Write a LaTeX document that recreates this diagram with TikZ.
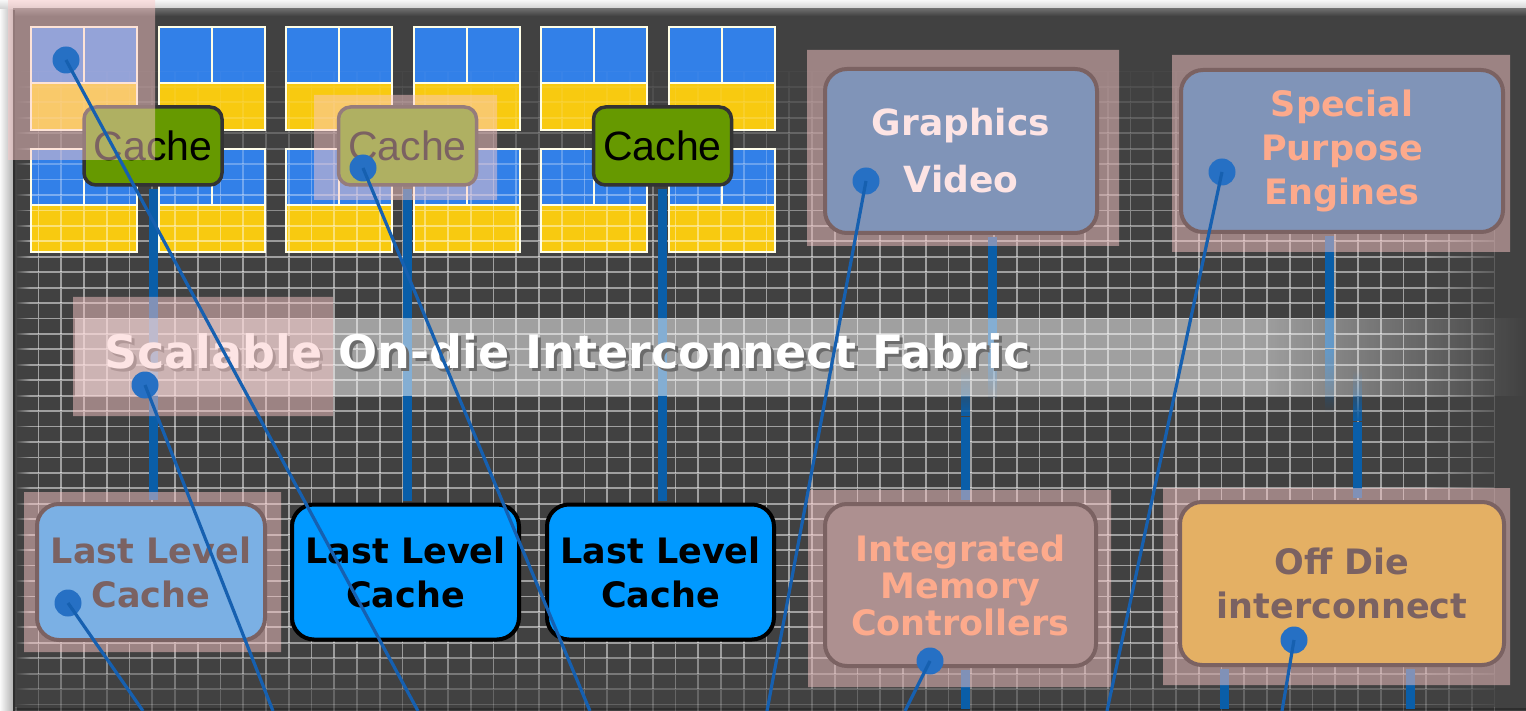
\documentclass[tikz,border=0pt]{standalone}
\usepackage{fontspec}
\setmainfont{DejaVu Sans}
\newfontfamily\cachefont{Liberation Sans}
\usetikzlibrary{fadings}

\definecolor{panelgray}{RGB}{65,65,65}
\definecolor{tileblue}{RGB}{50,128,232}
\definecolor{tileyellow}{RGB}{248,202,16}
\definecolor{cachegreen}{RGB}{102,153,0}
\definecolor{llcblue}{RGB}{0,153,255}
\definecolor{gfxblue}{RGB}{10,99,170}
\definecolor{imcgray}{RGB}{99,91,91}
\definecolor{offdiegold}{RGB}{207,154,5}
\definecolor{engineorange}{RGB}{255,143,83}
\definecolor{linkblue}{RGB}{10,94,168}
\definecolor{probeblue}{RGB}{38,112,196}
\definecolor{pointerblue}{RGB}{22,96,176}
\definecolor{hilitepink}{RGB}{251,200,200}

\tikzfading[name=fade out down, top color=transparent!0, bottom color=transparent!100]
\tikzfading[name=fade in down, top color=transparent!100, bottom color=transparent!0]
\tikzfading[name=fade out right, left color=transparent!0, right color=transparent!100]
\tikzfading[name=fade in right, left color=transparent!100, right color=transparent!0]

\tikzset{
  tileedge/.style={draw=white!90!yellow, line width=2pt},
  gridline/.style={white, line width=1.8pt},
  unit/.style={rounded corners=12pt, draw=black!80, line width=3.5pt, fill=cachegreen,
    minimum width=138pt, minimum height=78pt, inner sep=0pt,
    font=\cachefont\fontsize{41}{41}\selectfont},
  block/.style={rounded corners=22pt, draw=black, line width=4pt, align=center,
    font=\bfseries\fontsize{35}{44}\selectfont},
  link/.style={linkblue, line width=9pt, shorten <=2pt, shorten >=2pt},
  hilite/.style={fill=hilitepink, fill opacity=0.49},
  probe/.style={circle, fill=probeblue, inner sep=0pt, minimum size=27pt},
  pointer/.style={pointerblue, line width=3.2pt}
}

\begin{document}
\begin{tikzpicture}[x=1pt,y=-1pt]
\useasboundingbox (0,0) rectangle (1526,711);
% panel
\fill[black!7] (0,0) rectangle (1526,711);
\shade[top color=black!3, bottom color=black!20] (0,0) rectangle (1526,10);
\shade[left color=black!2, right color=black!30] (0,10) rectangle (13,711);
\fill[panelgray] (13,10) rectangle (1526,711);
\shade[top color=black!58, bottom color=panelgray] (13,9) rectangle (1526,16);
\draw[black!82, line width=2pt] (14,10) -- (14,711) (13,709) -- (1526,709);

% cores
\foreach \i in {0,...,5}
  \foreach \j in {0,1} {
    \pgfmathsetmacro\tx{31+127.6*\i}
    \pgfmathsetmacro\ty{27+122*\j}
    \fill[tileyellow] (\tx,\ty) rectangle ++(106,103);
    \fill[tileblue] (\tx,\ty) rectangle ++(106,56);
    \draw[tileedge] (\tx,\ty) rectangle ++(106,103)
      (\tx+53,\ty) -- ++(0,56) (\tx,\ty+56) -- ++(106,0);
  }

% die grid
\foreach \j in {0,...,45} {
  \pgfmathsetmacro\gy{9.7+15.44*\j}
  \pgfmathsetmacro\gop{0.5*min(1,max(0,(\gy-60)/190))*min(1,max(0.35,(720-\gy)/80))}
  \draw[gridline, draw opacity=\gop] (15,\gy) -- (1494,\gy)
    foreach \i in {0,...,65} {(15.7+22.75*\i,\gy) -- ++(0,15.44)};
}
\fill[panelgray, path fading=fade in right] (1420,16) rectangle (1526,707);
\fill[panelgray, path fading=fade out right] (15,16) rectangle (30,707);

% blocks
\node[unit] (cache1) at (153,146) {Cache};
\node[unit] (cache2) at (407.5,146) {Cache};
\node[unit] (cache3) at (662.5,146) {Cache};
\node[block, fill=gfxblue, text=white, minimum width=272pt, minimum height=164pt,
  font=\bfseries\fontsize{36}{57}\selectfont] (gfx) at (961,151) {Graphics\\Video};
\node[block, fill=gfxblue, text=engineorange, minimum width=322pt, minimum height=162pt]
  (spe) at (1342,151) {Special\\Purpose\\Engines};
\node[block, fill=llcblue, minimum width=228pt, minimum height=136pt]
  (llc1) at (151,572) {Last Level\\Cache};
\node[block, fill=llcblue, minimum width=227pt, minimum height=135pt]
  (llc2) at (405.5,572) {Last Level\\Cache};
\node[block, fill=llcblue, minimum width=227pt, minimum height=135pt]
  (llc3) at (660.5,572) {Last Level\\Cache};
\node[block, fill=imcgray, text=engineorange, minimum width=271pt, minimum height=162pt,
  font=\bfseries\fontsize{35}{37}\selectfont] (imc) at (960.5,585)
  {Integrated\\Memory\\Controllers};
\node[block, fill=offdiegold, minimum width=324pt, minimum height=163pt]
  (offdie) at (1342,583.5) {Off Die\\interconnect};

% links to the fabric
\coordinate (gfxtap) at (992,350);
\coordinate (spetap) at (1329,350);
\coordinate (imctap) at (965,415);
\coordinate (offtap) at (1357,420);
\coordinate (imcfoot) at (965,711);
\coordinate (offfootA) at (1224,711);
\coordinate (offfootB) at (1410,711);
\draw[link] (cache1.south) -- (cache1.south |- llc1.north);
\draw[link] (cache2.south) -- (cache2.south |- llc2.north);
\draw[link] (cache3.south) -- (cache3.south |- llc3.north);
\draw[link] (gfx.south -| gfxtap) -- (gfxtap);
\draw[link] (spe.south -| spetap) -- (spetap);
\draw[link] (imctap) -- (imc.north -| imctap);
\draw[link] (offtap) -- (offdie.north -| offtap);
\draw[link] (imc.south -| imcfoot) -- (imcfoot);
\draw[link] (offdie.south -| offfootA) -- (offfootA);
\draw[link] (offdie.south -| offfootB) -- (offfootB);
\fill[linkblue, path fading=fade out down] (987.5,349) rectangle (996.5,400);
\fill[linkblue, path fading=fade out down] (1324.5,349) rectangle (1333.5,412);
\fill[linkblue, path fading=fade in down] (960.5,368) rectangle (969.5,416);
\fill[linkblue, path fading=fade in down] (1352.5,370) rectangle (1361.5,421);

% fabric band
\fill[white, fill opacity=0.5] (75,318) rectangle (1260,396);
\fill[white, fill opacity=0.5, path fading=fade out right] (1260,318) rectangle (1526,396);
\node[anchor=base west, text=black!58, font=\bfseries\fontsize{46}{46}\selectfont]
  at (104,371) {Scalable On-die Interconnect Fabric};
\node[anchor=base west, text=white, font=\bfseries\fontsize{46}{46}\selectfont]
  (fabric) at (101,368) {Scalable On-die Interconnect Fabric};

% highlights
\fill[hilite] (8,0) rectangle (155,160) (314,95) rectangle (497,200)
  (807,50) rectangle (1119,246) (1172,55) rectangle (1510,252)
  (73,297) rectangle (333,416) (24,492) rectangle (281,652)
  (808,490) rectangle (1111,687) (1163,488) rectangle (1510,685);

% pointers
\node[probe] (ptile) at (66,60) {};
\node[probe] (pcache) at (363,168) {};
\node[probe] (pgfx) at (866,181) {};
\node[probe] (pspe) at (1222,172) {};
\node[probe] (pfab) at (145,385) {};
\node[probe] (pllc) at (68,603) {};
\node[probe] (pimc) at (930,661) {};
\node[probe] (poff) at (1294,640) {};
\coordinate (ftile) at (418,711);
\coordinate (fcache) at (590,711);
\coordinate (fgfx) at (767,711);
\coordinate (fspe) at (1107,711);
\coordinate (ffab) at (273,711);
\coordinate (fllc) at (143,711);
\coordinate (fimc) at (905,711);
\coordinate (foff) at (1282,711);
\foreach \p in {tile,cache,gfx,spe,fab,llc,imc,off}
  \draw[pointer] (p\p.center) -- (f\p);
\end{tikzpicture}
\end{document}
